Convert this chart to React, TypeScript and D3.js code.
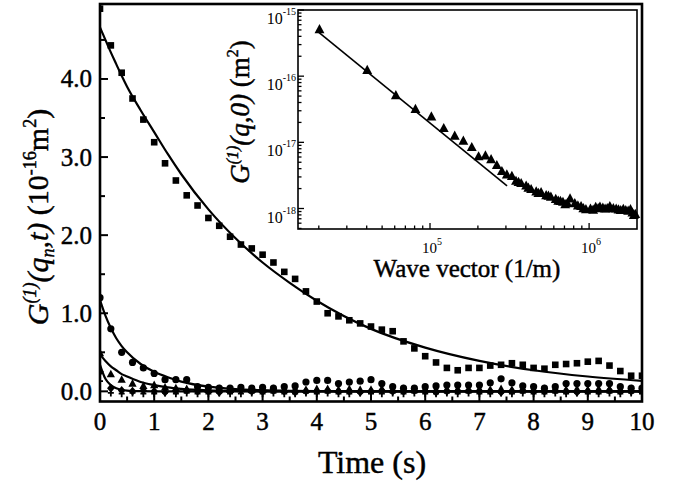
import React from "react";
import * as d3 from "d3";

// ---------- main plot data (time step 0.2 s) ----------
const TIMES: number[] = d3.range(0, 51).map((i) => +(i * 0.2).toFixed(1));

const SQUARES: number[] = [
  4.9, 4.43, 4.08, 3.75, 3.48, 3.19, 2.92, 2.7, 2.51, 2.38, 2.22, 2.12, 1.98,
  1.88, 1.83, 1.75, 1.65, 1.53, 1.44, 1.28, 1.15, 1.0, 0.96, 0.91, 0.87, 0.83,
  0.79, 0.77, 0.64, 0.55, 0.45, 0.37, 0.3, 0.27, 0.3, 0.3, 0.33, 0.34, 0.36,
  0.34, 0.3, 0.29, 0.34, 0.35, 0.36, 0.38, 0.39, 0.33, 0.26, 0.2, 0.2,
];

const CIRCLES: number[] = [
  1.2, 0.8, 0.5, 0.37, 0.3, 0.23, 0.15, 0.15, 0.15, 0.06, 0.05, 0.04, 0.04,
  0.05, 0.04, 0.05, 0.04, 0.06, 0.07, 0.12, 0.14, 0.14, 0.1, 0.12, 0.13, 0.15,
  0.1, 0.06, 0.04, 0.04, 0.06, 0.07, 0.08, 0.08, 0.08, 0.08, 0.11, 0.16, 0.11,
  0.07, 0.06, 0.04, 0.06, 0.1, 0.1, 0.1, 0.1, 0.1, 0.06, 0.04, 0.04,
];

const TRIANGLES: number[] = [
  0.49, 0.22, 0.15, 0.1, 0.07, 0.08, 0.05, 0.04, 0.03, 0.03, 0.02, 0.03, 0.02,
  0.03, 0.02, 0.02, 0.03, 0.02, 0.03, 0.02, 0.03, 0.03, 0.02, 0.03, 0.02, 0.02,
  0.03, 0.02, 0.03, 0.02, 0.03, 0.02, 0.03, 0.03, 0.02, 0.03, 0.02, 0.03, 0.02,
  0.03, 0.02, 0.03, 0.03, 0.02, 0.03, 0.02, 0.03, 0.03, 0.02, 0.03, 0.02,
];

const DIAMONDS: number[] = [
  0.25, 0.04, 0.01, 0.0, 0.01, 0.0, -0.01, 0.0, 0.01, 0.0, 0.0, -0.01, 0.0,
  0.01, 0.0, 0.0, 0.01, 0.0, -0.01, 0.0, 0.0, 0.01, 0.0, 0.0, -0.01, 0.0, 0.01,
  0.0, 0.0, 0.01, 0.0, -0.01, 0.0, 0.0, 0.01, 0.0, 0.0, -0.01, 0.0, 0.01, 0.0,
  0.0, 0.01, 0.0, -0.01, 0.0, 0.0, 0.01, 0.0, 0.0, 0.0,
];

const CROSSES: number[] = [
  0.13, -0.02, -0.03, -0.02, -0.03, -0.03, -0.02, -0.03, -0.02, -0.03, -0.03,
  -0.02, -0.03, -0.03, -0.02, -0.03, -0.02, -0.03, -0.03, -0.02, -0.03, -0.02,
  -0.03, -0.03, -0.02, -0.03, -0.03, -0.02, -0.03, -0.02, -0.03, -0.03, -0.02,
  -0.03, -0.02, -0.03, -0.03, -0.02, -0.03, -0.02, -0.03, -0.03, -0.02, -0.03,
  -0.02, -0.03, -0.03, -0.02, -0.03, -0.02, -0.03,
];

// fit curves
const FIT_T: number[] = [
  0, 0.1, 0.2, 0.3, 0.4, 0.5, 0.75, 1, 1.25, 1.5, 2, 2.5, 3, 3.5, 4, 5, 6, 7, 8,
  9, 10,
];
const FIT_SQUARES: number[] = [
  4.66, 4.5, 4.34, 4.19, 4.04, 3.9, 3.6, 3.32, 3.04, 2.78, 2.33, 1.96, 1.65,
  1.39, 1.16, 0.8, 0.56, 0.39, 0.27, 0.19, 0.135,
];
const FIT_CIRCLES: number[] = [
  1.17, 0.97, 0.81, 0.68, 0.58, 0.5, 0.35, 0.25, 0.18, 0.125, 0.06, 0.03,
  0.015, 0.007, 0.003, 0, 0, 0, 0, 0, 0,
];
const FIT_TRIANGLES: number[] = [
  0.47, 0.39, 0.32, 0.27, 0.22, 0.19, 0.12, 0.08, 0.05, 0.032, 0.013, 0.005,
  0.002, 0, 0, 0, 0, 0, 0, 0, 0,
];
const FIT_DIAMONDS: number[] = [
  0.34, 0.16, 0.08, 0.04, 0.02, 0.01, 0.002, 0, 0, 0, 0, 0, 0, 0, 0, 0, 0, 0,
  0, 0, 0,
];

const X_TICKS: number[] = [0, 1, 2, 3, 4, 5, 6, 7, 8, 9, 10];
const Y_TICKS: number[] = [0, 1, 2, 3, 4];
const Y_TICK_LABELS: string[] = ["0.0", "1.0", "2.0", "3.0", "4.0"];

// ---------- inset data ----------
const INSET_Q: number[] = [
  2.02e4, 4.03e4, 6.1e4, 8.1e4, 1.02e5, 1.22e5, 1.43e5, 1.62e5, 1.83e5, 2.02e5,
  2.23e5, 2.42e5, 2.63e5, 2.83e5, 3.04e5, 3.27e5, 3.47e5, 3.6e5, 3.74e5, 4.02e5,
  4.15e5, 4.32e5, 4.65e5, 4.8e5, 4.99e5, 5.37e5, 5.55e5, 5.75e5, 6.17e5, 6.4e5,
  6.6e5, 6.85e5, 7.08e5, 7.3e5, 7.59e5, 8.13e5, 8.5e5, 8.9e5, 9.2e5, 9.55e5,
  1.02e6, 1.06e6, 1.1e6, 1.14e6, 1.17e6, 1.22e6, 1.26e6, 1.3e6, 1.35e6, 1.42e6,
  1.48e6, 1.53e6, 1.58e6, 1.64e6, 1.7e6, 1.76e6, 1.82e6, 1.87e6, 1.91e6, 1.95e6,
];
const INSET_G: number[] = [
  5.1e-16, 1.23e-16, 5.1e-17, 3.16e-17, 2.44e-17, 1.63e-17, 1.25e-17, 1.05e-17,
  8.4e-18, 6.1e-18, 6.3e-18, 5.5e-18, 4.5e-18, 3.65e-18, 3.25e-18, 3.07e-18,
  2.6e-18, 2.5e-18, 2.4e-18, 2.2e-18, 2.05e-18, 1.95e-18, 1.8e-18, 1.7e-18,
  1.75e-18, 1.58e-18, 1.55e-18, 1.5e-18, 1.38e-18, 1.3e-18, 1.29e-18, 1.25e-18,
  1.15e-18, 1.2e-18, 1.41e-18, 1.19e-18, 1.1e-18, 1.08e-18, 1.0e-18, 9.7e-19,
  9.9e-19, 9.5e-19, 1.05e-18, 1.0e-18, 1.06e-18, 1.02e-18, 9.9e-19, 1.0e-18,
  1.08e-18, 1.0e-18, 9.9e-19, 9.6e-19, 9.4e-19, 9.8e-19, 9.4e-19, 9.2e-19,
  9.7e-19, 8.6e-19, 7.9e-19, 8.2e-19,
];
const INSET_FIT_Q: number[] = [2.0e4, 3.05e5];
const INSET_FIT_G: number[] = [4.6e-16, 2.2e-18];
const INSET_X_MAJOR: number[] = [1e5, 1e6];
const INSET_X_LABELS: string[] = ["5", "6"];
const INSET_Y_MAJOR: number[] = [1e-15, 1e-16, 1e-17, 1e-18];
const INSET_Y_LABELS: string[] = ["-15", "-16", "-17", "-18"];

const FONT = "Liberation Serif";
const TS: React.CSSProperties = { fontFamily: FONT, stroke: "#000", strokeWidth: 0.45 };

export default function App() {
  const W = 678,
    H = 489;
  const mL = 100,
    mR = 642,
    mT = 4,
    mB = 401.5;
  const x = d3.scaleLinear().domain([0, 10]).range([mL, mR]);
  const y = d3.scaleLinear().domain([-0.13, 4.96]).range([mB, mT]);

  const iL = 298,
    iR = 637,
    iT = 10,
    iB = 229;
  const xi = d3.scaleLog().domain([1.48e4, 2.0e6]).range([iL, iR]);
  const yi = d3.scaleLog().domain([4.9e-19, 1.0e-15]).range([iB, iT]);

  const fitLine = d3
    .line<number>()
    .x((_, i) => x(FIT_T[i]))
    .y((d) => y(d))
    .curve(d3.curveMonotoneX);

  const xMinor = d3.range(0.5, 10, 1);
  const yMinor = d3.range(0.5, 5, 1);

  const iXMinor: number[] = [];
  [1e4, 1e5, 1e6].forEach((dec) => {
    for (let k = 2; k <= 9; k++) {
      const v = dec * k;
      if (v > 1.48e4 && v < 2.0e6) iXMinor.push(v);
    }
  });
  const iYMinor: number[] = [];
  [1e-19, 1e-18, 1e-17, 1e-16].forEach((dec) => {
    for (let k = 2; k <= 9; k++) {
      const v = dec * k;
      if (v > 4.9e-19 && v < 1e-15) iYMinor.push(v);
    }
  });

  const tri = (cx: number, cy: number, s: number) =>
    `M${cx},${cy - s * 0.6}L${cx + s * 0.55},${cy + s * 0.42}L${cx - s * 0.55},${cy + s * 0.42}Z`;

  const clipMain = "clipMain";

  return (
    <svg
      width={W}
      height={H}
      style={{ position: "absolute", left: 0, top: 0, background: "#fff", fontFamily: FONT }}
    >
      <defs>
        <clipPath id={clipMain}>
          <rect x={mL} y={mT} width={mR - mL} height={mB - mT} />
        </clipPath>
      </defs>
      <rect x={0} y={0} width={W} height={H} fill="#fff" />

      {/* main fits */}
      <g clipPath={`url(#${clipMain})`} fill="none" stroke="#000" strokeWidth={2.2}>
        <path d={fitLine(FIT_SQUARES) || ""} />
        <path d={fitLine(FIT_CIRCLES) || ""} />
        <path d={fitLine(FIT_TRIANGLES) || ""} />
        <path d={fitLine(FIT_DIAMONDS) || ""} />
      </g>

      {/* main markers */}
      <g clipPath={`url(#${clipMain})`} fill="#000">
        {CROSSES.map((v, i) => (
          <g key={"x" + i} stroke="#000" strokeWidth={1.8}>
            <line x1={x(TIMES[i]) - 3} x2={x(TIMES[i]) + 3} y1={y(v)} y2={y(v)} />
            <line x1={x(TIMES[i])} x2={x(TIMES[i])} y1={y(v) - 3.5} y2={y(v) + 3.5} />
          </g>
        ))}
        {DIAMONDS.map((v, i) => (
          <path
            key={"d" + i}
            d={`M${x(TIMES[i])},${y(v) - 4.5}L${x(TIMES[i]) + 3.8},${y(v)}L${x(TIMES[i])},${y(v) + 4.5}L${x(TIMES[i]) - 3.8},${y(v)}Z`}
          />
        ))}
        {TRIANGLES.map((v, i) => (
          <path key={"t" + i} d={tri(x(TIMES[i]), y(v), 7.5)} />
        ))}
        {CIRCLES.map((v, i) => (
          <circle key={"c" + i} cx={x(TIMES[i])} cy={y(v)} r={3.6} />
        ))}
        {SQUARES.map((v, i) => (
          <rect key={"s" + i} x={x(TIMES[i]) - 3.3} y={y(v) - 3.3} width={6.6} height={6.6} />
        ))}
      </g>

      {/* main axes frame */}
      <rect
        x={mL}
        y={mT}
        width={mR - mL}
        height={mB - mT}
        fill="none"
        stroke="#000"
        strokeWidth={2.6}
      />
      {/* ticks */}
      <g stroke="#000" strokeWidth={2}>
        {X_TICKS.map((t) => (
          <line key={"xt" + t} x1={x(t)} x2={x(t)} y1={mB} y2={mB - 8} />
        ))}
        {xMinor.map((t) => (
          <line key={"xm" + t} x1={x(t)} x2={x(t)} y1={mB} y2={mB - 5} />
        ))}
        {Y_TICKS.map((t) => (
          <line key={"yt" + t} x1={mL} x2={mL + 8} y1={y(t)} y2={y(t)} />
        ))}
        {yMinor.map((t) => (
          <line key={"ym" + t} x1={mL} x2={mL + 5} y1={y(t)} y2={y(t)} />
        ))}
      </g>
      {/* tick labels */}
      <g fill="#000">
        {X_TICKS.map((t) => (
          <text key={"xl" + t} x={x(t)} y={430} textAnchor="middle" fontSize={25} style={TS}>
            {t}
          </text>
        ))}
        {Y_TICKS.map((t, i) => (
          <text key={"yl" + t} x={92} y={y(t) + 8.5} textAnchor="end" fontSize={25} style={TS}>
            {Y_TICK_LABELS[i]}
          </text>
        ))}
      </g>
      <text x={372} y={473} fontSize={32} textAnchor="middle" style={TS}>
        Time (s)
      </text>
      <text transform="translate(48,217) rotate(-90)" fontSize={30} textAnchor="middle" style={TS}>
        <tspan fontStyle="italic">G</tspan>
        <tspan fontStyle="italic" fontSize={18} dy={-12}>(1)</tspan>
        <tspan fontStyle="italic" dy={12}>(q</tspan>
        <tspan fontStyle="italic" fontSize={18} dy={6}>n</tspan>
        <tspan fontStyle="italic" dy={-6}>,t)</tspan>
        <tspan> (10</tspan>
        <tspan fontSize={18} dy={-12}>-16</tspan>
        <tspan dy={12}>m</tspan>
        <tspan fontSize={18} dy={-12}>2</tspan>
        <tspan dy={12}>)</tspan>
      </text>

      {/* ---------- inset ---------- */}
      <rect x={iL} y={iT} width={iR - iL} height={iB - iT} fill="#fff" stroke="#000" strokeWidth={1.6} />
      <g stroke="#000" strokeWidth={1.3}>
        {INSET_X_MAJOR.map((v) => (
          <line key={"ixt" + v} x1={xi(v)} x2={xi(v)} y1={iB} y2={iB - 6} />
        ))}
        {iXMinor.map((v) => (
          <line key={"ixm" + v} x1={xi(v)} x2={xi(v)} y1={iB} y2={iB - 3.5} />
        ))}
        {INSET_Y_MAJOR.map((v) => (
          <line key={"iyt" + v} x1={iL} x2={iL + 6} y1={yi(v)} y2={yi(v)} />
        ))}
        {iYMinor.map((v) => (
          <line key={"iym" + v} x1={iL} x2={iL + 3.5} y1={yi(v)} y2={yi(v)} />
        ))}
      </g>
      <path
        d={
          d3
            .line<number>()
            .x((_, i) => xi(INSET_FIT_Q[i]))
            .y((d) => yi(d))(INSET_FIT_G) || ""
        }
        fill="none"
        stroke="#000"
        strokeWidth={1.6}
      />
      <g fill="#000">
        {INSET_G.map((g, i) => (
          <path key={"it" + i} d={tri(xi(INSET_Q[i]), yi(g), 9)} />
        ))}
      </g>
      <g fill="#000">
        {INSET_Y_MAJOR.map((v, i) => (
          <text key={"iyl" + v} x={296} y={yi(v) + 14} textAnchor="end" fontSize={16} style={{ fontFamily: FONT }}>
            10
            <tspan fontSize={10} dy={-9}>{INSET_Y_LABELS[i]}</tspan>
          </text>
        ))}
        {INSET_X_MAJOR.map((v, i) => (
          <text key={"ixl" + v} x={xi(v) + 2} y={253} textAnchor="middle" fontSize={15} style={{ fontFamily: FONT }}>
            10
            <tspan fontSize={10} dy={-8}>{INSET_X_LABELS[i]}</tspan>
          </text>
        ))}
      </g>
      <text x={467} y={277} fontSize={25} textAnchor="middle" style={TS}>
        Wave vector (1/m)
      </text>
      <text transform="translate(249,112) rotate(-90)" fontSize={27} textAnchor="middle" style={TS}>
        <tspan fontStyle="italic">G</tspan>
        <tspan fontStyle="italic" fontSize={16} dy={-11}>(1)</tspan>
        <tspan fontStyle="italic" dy={11}>(q,0)</tspan>
        <tspan>  (m</tspan>
        <tspan fontSize={16} dy={-11}>2</tspan>
        <tspan dy={11}>)</tspan>
      </text>
    </svg>
  );
}
